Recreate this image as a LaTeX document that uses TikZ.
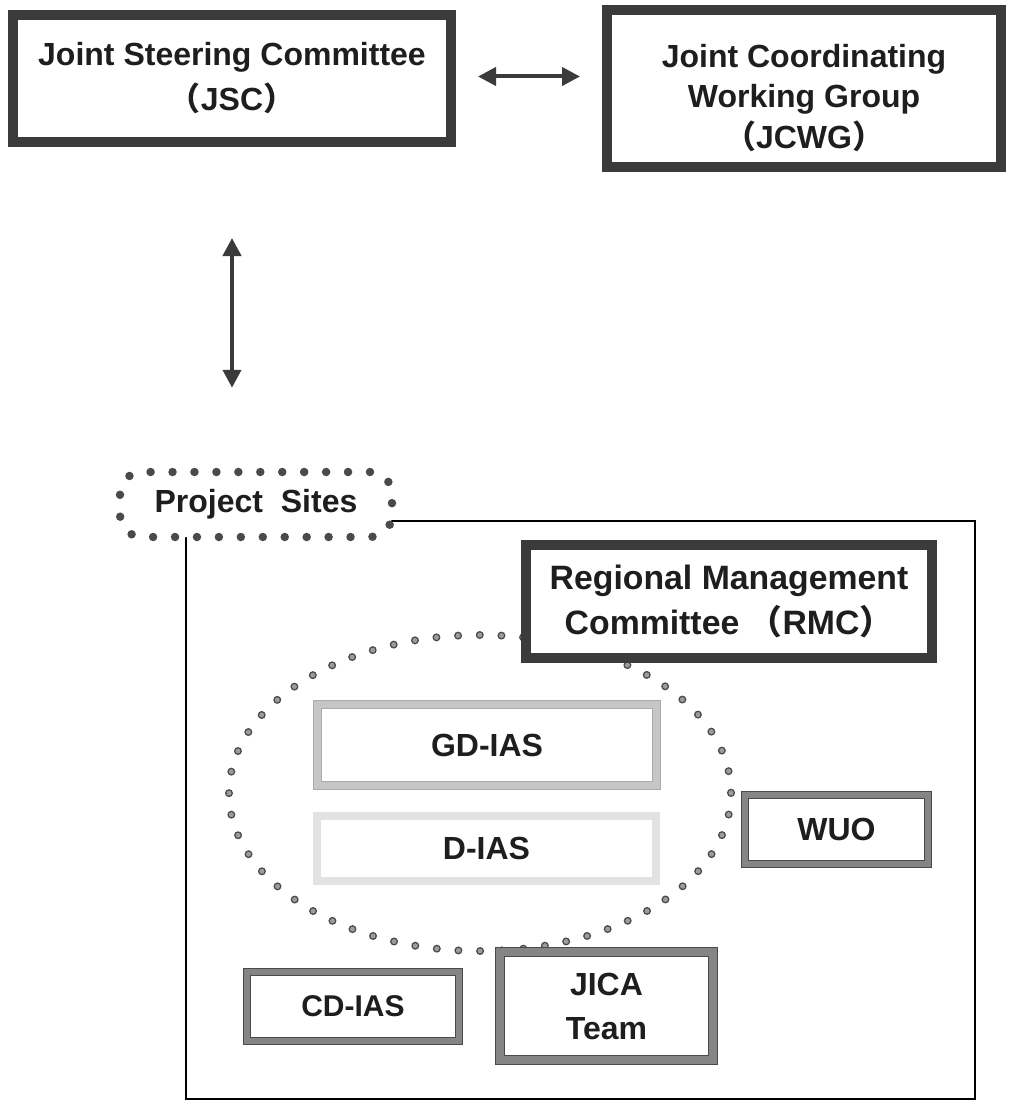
\documentclass[tikz,border=0pt]{standalone}
\usepackage{fontspec}
\setmainfont{Liberation Sans}
\newfontfamily\cjk{Noto Sans CJK JP}
\usetikzlibrary{arrows.meta}
\definecolor{boxdark}{HTML}{3B3B3B}
\definecolor{edgedark}{HTML}{4A4A4A}
\definecolor{boxgray}{HTML}{858585}
\definecolor{boxlight}{HTML}{C6C6C6}
\definecolor{edgelight}{HTML}{ABABAB}
\definecolor{boxpale}{HTML}{E2E2E2}
\definecolor{dotgray}{HTML}{9C9C9C}
\definecolor{inkgray}{HTML}{1E1E1E}
\newcommand{\lpar}{{\cjk （}}
\newcommand{\rpar}{{\cjk ）}}
\begin{document}
\begin{tikzpicture}[x=1pt,y=-1pt,
  lbl/.style={font=\bfseries\fontsize{32}{44}\selectfont, text=inkgray, align=center, inner sep=0pt},
  heavybox/.style={lbl, draw=boxdark, line width=10pt, fill=white},
  graybox/.style={lbl, draw=edgedark, line width=1.2pt, double=boxgray, double distance=5.6pt, fill=white},
  lightbox/.style={lbl, draw=edgelight, line width=1pt, double=boxlight, double distance=7pt, fill=white},
  palebox/.style={lbl, draw=boxpale, line width=8pt, fill=white},
  dotline/.style={line width=#1, dash pattern=on 0pt off 21.69pt, line cap=round},
  sitebox/.style={lbl, draw=edgedark, line width=8.5pt, dash pattern=on 0pt off 21.94pt, line cap=round, rounded corners=22pt, fill=white},
  arr/.style={draw=boxdark, line width=4pt, {Triangle[length=18pt,width=18pt]}-{Triangle[length=18pt,width=18pt]}}]
\useasboundingbox (0,0) rectangle (1009,1102);
\draw[line width=2pt, black] (186,521) rectangle (975,1099);
\node[sitebox, minimum width=272pt, minimum height=65pt] (sites) at (256,504.5) {Project\ \ Sites};
\draw[edgedark, dotline=8pt] (480,793) ellipse [x radius=251, y radius=158];
\draw[dotgray, dotline=5pt] (480,793) ellipse [x radius=251, y radius=158];
\node[lightbox, minimum width=339pt, minimum height=81pt] (gdias) at (487,745) {GD-IAS};
\node[palebox, minimum width=339pt, minimum height=65pt] (dias) at (486.5,848.5) {D-IAS};
\node[heavybox, minimum width=406pt, minimum height=113pt, font=\bfseries\fontsize{33.8}{45}\selectfont] (rmc) at (729,601.5) {Regional Management\\Committee\ \lpar RMC\rpar};
\node[graybox, minimum width=183pt, minimum height=69pt] (wuo) at (836.5,829.5) {WUO};
\node[graybox, minimum width=212pt, minimum height=69pt, font=\bfseries\fontsize{30}{44}\selectfont] (cdias) at (353,1006.5) {CD-IAS};
\node[graybox, double distance=7.6pt, minimum width=213pt, minimum height=108pt] (jica) at (606.5,1006) {JICA\\Team};
\node[heavybox, minimum width=438pt, minimum height=127pt, font=\bfseries\fontsize{32}{45}\selectfont] (jsc) at (232,78.5) {Joint Steering Committee\\\lpar JSC\rpar};
\node[heavybox, minimum width=394pt, minimum height=157pt, font=\bfseries\fontsize{32}{40.5}\selectfont] (jcwg) at (804,88.5) {\rule{0pt}{42pt}Joint Coordinating\\Working Group\\\lpar JCWG\rpar};
\draw[arr, shorten <=22pt, shorten >=22pt] ([yshift=2pt]jsc.east) -- ([yshift=2pt]jsc.east -| jcwg.west);
\draw[arr, shorten <=91pt, shorten >=80pt] (jsc.south) -- (jsc.south |- sites.north);
\end{tikzpicture}
\end{document}
